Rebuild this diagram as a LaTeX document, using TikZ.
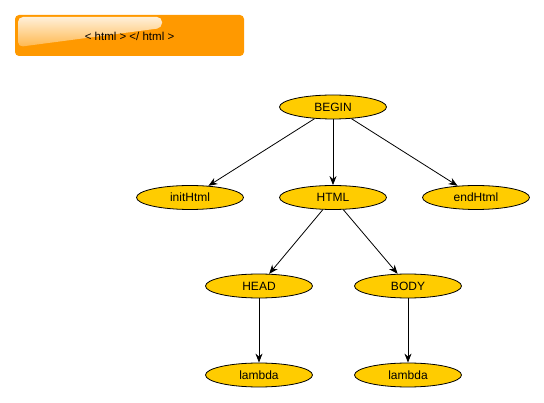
\documentclass[tikz,border=0pt]{standalone}
\usepackage{fontspec}
\setmainfont{Liberation Sans}
\usetikzlibrary{arrows.meta,shapes.geometric,positioning}
\definecolor{stategold}{HTML}{FFCC00}
\definecolor{bannerorange}{HTML}{FF9900}

\tikzset{
    state/.style={ellipse,draw=black,line width=0.8pt,fill=stategold,minimum width=107pt,minimum height=24pt,inner sep=0pt,font=\fontsize{12}{14}\selectfont},
    trans/.style={-{Stealth[length=9pt,width=7pt]},line width=0.8pt,black}
}

\begin{document}
\begin{tikzpicture}[x=1pt,y=-1pt]
    \useasboundingbox (0,0) rectangle (544,403);

    % 标题栏
    \fill[bannerorange,rounded corners=4pt] (15,15) rectangle (244,56);
    \shade[top color=bannerorange!15!white,bottom color=bannerorange!70!white,rounded corners=5pt]
        (18,47) -- (18,17) -- (162,17) -- (162,28) -- cycle;
    \node[font=\fontsize{11.5}{13}\selectfont] (title) at (129.5,36.5) {< html > </ html >};

    % 状态结点
    \node[state] (begin) at (333,107) {BEGIN};
    \node[state] (init) at (190,197.5) {initHtml};
    \node[state] (html) at (333,197.5) {HTML};
    \node[state] (end) at (476,197.5) {endHtml};
    \node[state] (head) at (259,286) {HEAD};
    \node[state] (body) at (408,286) {BODY};
    \node[state] (lamhead) at (259,375) {lambda};
    \node[state] (lambody) at (408,375) {lambda};

    % 转移
    \draw[trans] (begin) -- (init);
    \draw[trans] (begin) -- (html);
    \draw[trans] (begin) -- (end);
    \draw[trans] (html) -- (head);
    \draw[trans] (html) -- (body);
    \draw[trans] (head) -- (lamhead);
    \draw[trans] (body) -- (lambody);
\end{tikzpicture}
\end{document}
